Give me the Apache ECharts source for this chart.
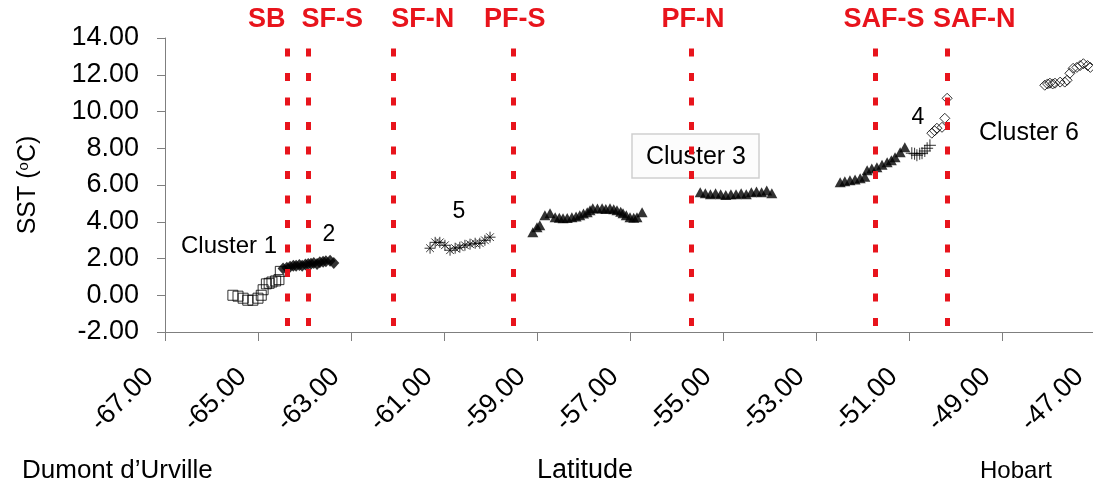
<!DOCTYPE html>
<html>
<head>
<meta charset="utf-8">
<script src="https://cdn.jsdelivr.net/npm/echarts@6/dist/echarts.min.js"></script>
<style>html,body{margin:0;padding:0;background:#fff;}#c{width:1093px;height:486px;}</style>
</head>
<body>
<div id="c"></div>
<script>
// ---- data ----
const xTicks = [-67, -47, 2];           // min, max, step of latitude axis
const yTicks = [-2, 14, 2];             // min, max, step of SST axis

const c1Lat = [-65.54,-65.43,-65.32,-65.22,-65.11,-65.00,-64.93,-64.89,-64.82,-64.76,-64.70,-64.62,-64.55,-64.52];
const c1Sst = [0.00,-0.05,-0.16,-0.27,-0.27,-0.16,0.00,0.30,0.62,0.65,0.72,0.78,0.85,1.30];

const c2Lat = [-64.46,-64.38,-64.31,-64.24,-64.18,-64.11,-64.05,-63.98,-63.92,-63.86,-63.80,-63.73,-63.67,-63.60,-63.54,-63.45,-63.37];
const c2Sst = [1.45,1.50,1.55,1.60,1.60,1.65,1.60,1.68,1.70,1.72,1.75,1.70,1.80,1.82,1.85,1.88,1.75];

const c5Lat = [-61.30,-61.19,-61.09,-60.98,-60.87,-60.76,-60.66,-60.55,-60.44,-60.33,-60.23,-60.12,-60.01];
const c5Sst = [2.56,2.88,2.88,2.72,2.45,2.56,2.61,2.72,2.78,2.83,2.83,2.99,3.16];

const c3Lat = [-59.09,-59.00,-58.94,-58.83,-58.72,-58.61,-58.52,-58.44,-58.35,-58.25,-58.16,-58.08,-58.00,-57.92,-57.86,-57.80,-57.70,-57.60,-57.52,-57.43,-57.35,-57.28,-57.20,-57.15,-57.08,-57.00,-56.92,-56.85,-56.74,
               -55.49,-55.38,-55.27,-55.16,-55.05,-54.94,-54.83,-54.72,-54.61,-54.50,-54.39,-54.28,-54.17,-54.06,-53.95,
               -52.48,-52.38,-52.27,-52.16,-52.05,-51.95,-51.90,-51.80,-51.69,-51.58,-51.47,-51.38,-51.30,-51.19,-51.09];
const c3Sst = [3.43,3.70,3.81,4.35,4.46,4.24,4.22,4.19,4.20,4.24,4.28,4.35,4.45,4.52,4.62,4.73,4.72,4.73,4.70,4.73,4.68,4.63,4.55,4.46,4.35,4.24,4.22,4.24,4.52,
               5.60,5.55,5.50,5.55,5.50,5.45,5.50,5.50,5.55,5.50,5.60,5.65,5.60,5.70,5.55,
               6.15,6.20,6.26,6.30,6.37,6.45,6.80,6.90,6.97,7.10,7.24,7.35,7.51,7.78,8.05];

const c4Lat = [-50.94,-50.88,-50.83,-50.77,-50.72,-50.66,-50.61,-50.55];
const c4Sst = [7.73,7.70,7.62,7.70,7.73,7.85,8.00,8.16];

const c6Lat = [-50.51,-50.45,-50.40,-50.29,-50.23,-50.18,
               -48.08,-48.02,-47.97,-47.91,-47.86,-47.75,-47.65,-47.60,-47.54,-47.47,-47.39,-47.32,-47.25,-47.16,-47.10];
const c6Sst = [8.82,8.95,9.09,9.14,9.63,10.72,
               11.43,11.50,11.54,11.50,11.54,11.60,11.60,11.70,12.08,12.35,12.40,12.50,12.60,12.50,12.40];

const fronts   = ['SB','SF-S','SF-N','PF-S','PF-N','SAF-S','SAF-N'];
const frontLat = [-64.38,-63.92,-62.10,-59.52,-55.69,-51.73,-50.18];

// ---- styles ----
const FONT = 'Liberation Sans, Arial, sans-serif';
const RED = '#e8141c';
const frontLabelDx = [-20, 24, 30, 2, 2, 9, 27];

const pairs = (a, b) => a.map((v, i) => [v, b[i]]);

const chart = echarts.init(document.getElementById('c'));
const axisLine = {show: true, onZero: false, lineStyle: {color: '#7f7f7f', width: 1}};

chart.setOption({
  animation: false,
  backgroundColor: '#fff',
  grid: {left: 165, top: 38, width: 930, height: 294, containLabel: false, outerBoundsMode: 'none'},
  xAxis: {
    type: 'value', min: xTicks[0], max: xTicks[1], interval: xTicks[2],
    axisLine: axisLine,
    axisTick: {show: true, length: 9, lineStyle: {color: '#7f7f7f'}},
    splitLine: {show: false},
    axisLabel: {rotate: 45, margin: 25, padding: [0, 22, 0, 0], fontSize: 27, color: '#000', fontFamily: FONT,
                formatter: v => v.toFixed(2)},
    name: 'Latitude', nameLocation: 'middle', nameGap: 125,
    nameTextStyle: {fontSize: 27, color: '#000', fontFamily: FONT, padding: [0, 90, 0, 0]}
  },
  yAxis: {
    type: 'value', min: yTicks[0], max: yTicks[1], interval: yTicks[2],
    axisLine: axisLine,
    axisTick: {show: true, length: 8, lineStyle: {color: '#7f7f7f'}},
    splitLine: {show: false},
    axisLabel: {margin: 26, fontSize: 27, color: '#000', fontFamily: FONT,
                formatter: v => v.toFixed(2)},
    name: '{a|SST (}{s|o}{a|C)}', nameLocation: 'middle', nameGap: 124, nameRotate: 90,
    nameTextStyle: {rich: {
      a: {fontSize: 25, color: '#000', fontFamily: FONT},
      s: {fontSize: 15, color: '#000', fontFamily: FONT, verticalAlign: 'top', padding: [0, 0, 10, 0]}
    }}
  },
  series: [
    {type: 'scatter', name: 'fronts', data: [], silent: true,
     markLine: {silent: true, symbol: 'none', animation: false,
       lineStyle: {color: RED, width: 5, type: [8, 16.5], dashOffset: 18.5},
       label: {show: false},
       data: frontLat.map((x, i) => ({xAxis: x, name: fronts[i]}))}},
    {type: 'scatter', name: 'Cluster 1', data: pairs(c1Lat, c1Sst), symbol: 'rect', symbolSize: [10, 10],
     itemStyle: {color: 'rgba(255,255,255,0)', borderColor: '#000', borderWidth: 1}},
    {type: 'scatter', name: 'Cluster 2', data: pairs(c2Lat, c2Sst), symbol: 'diamond', symbolSize: [11, 12],
     itemStyle: {color: '#000'}},
    {type: 'scatter', name: 'Cluster 5', data: pairs(c5Lat, c5Sst),
     symbol: 'path://M0,5L10,5M5,0L5,10M1.5,1.5L8.5,8.5M8.5,1.5L1.5,8.5', symbolSize: 11,
     itemStyle: {color: 'none', borderColor: '#000', borderWidth: 1}},
    {type: 'scatter', name: 'Cluster 3', data: pairs(c3Lat, c3Sst), symbol: 'triangle', symbolSize: [11, 10],
     itemStyle: {color: '#000'}},
    {type: 'scatter', name: 'Cluster 4', data: pairs(c4Lat, c4Sst),
     symbol: 'path://M5,0L5,10M0,5L10,5', symbolSize: 12,
     itemStyle: {color: 'none', borderColor: '#000', borderWidth: 1}},
    {type: 'scatter', name: 'Cluster 6', data: pairs(c6Lat, c6Sst), symbol: 'diamond', symbolSize: [10, 10],
     itemStyle: {color: 'rgba(255,255,255,0)', borderColor: '#000', borderWidth: 1}}
  ]
});

// front labels above the dashed lines + annotations
const txt = (x, y, t, size, extra) => ({type: 'text', x: x, y: y, silent: true,
  style: Object.assign({text: t, fill: '#000', font: size + 'px ' + FONT, align: 'center', verticalAlign: 'middle'}, extra || {})});

const graphics = fronts.map((f, i) => {
  const px = chart.convertToPixel({xAxisIndex: 0}, frontLat[i]);
  return {type: 'text', x: px + frontLabelDx[i], y: 20, silent: true,
    style: {text: f, fill: RED, font: 'bold 27px ' + FONT, align: 'center', verticalAlign: 'middle'}};
});
graphics.push(
  txt(229, 246, 'Cluster 1', 24),
  txt(329, 235, '2', 23),
  txt(459, 212, '5', 23),
  {type: 'rect', shape: {x: 632, y: 134, width: 127, height: 44}, silent: true,
   style: {fill: '#fcfcfc', stroke: '#cfcfcf', lineWidth: 1.5}},
  txt(696, 157, 'Cluster 3', 25),
  txt(918, 118, '4', 23),
  txt(1029, 133, 'Cluster 6', 25),
  txt(22, 471, 'Dumont d\u2019Urville', 26, {align: 'left'}),
  txt(980, 471, 'Hobart', 24, {align: 'left'})
);
chart.setOption({graphic: graphics});
</script>
</body>
</html>
